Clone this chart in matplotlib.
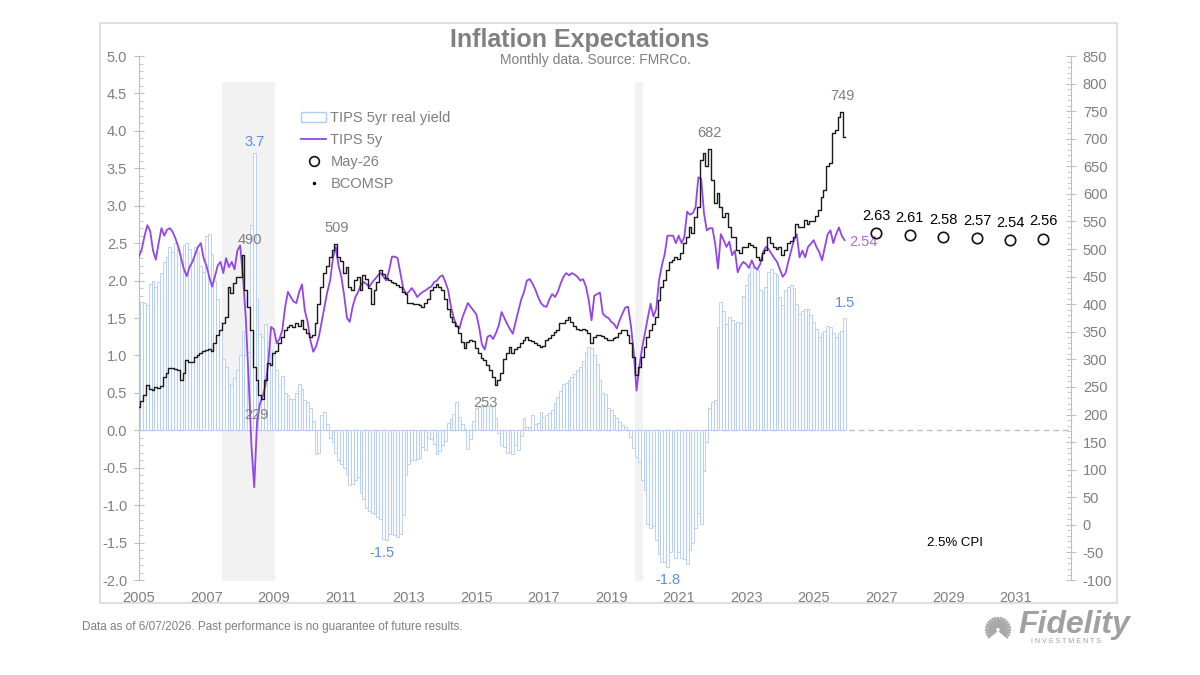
import numpy as np
import matplotlib
matplotlib.use('Agg')
import matplotlib.pyplot as plt
from matplotlib.patches import Rectangle, Patch
from matplotlib.lines import Line2D
from matplotlib.ticker import MultipleLocator, FormatStrFormatter

plt.rcParams['font.family'] = ['Liberation Sans', 'DejaVu Sans']
plt.rcParams['axes.unicode_minus'] = False

# monthly data, one row of 12 per line; first month sits on the 2005 tick
real_yield = [
    1.68, 1.72, 1.70, 1.68, 1.95, 2.00, 1.92, 1.98, 2.10, 2.25, 2.32, 2.45,
    2.38, 2.50, 2.42, 2.35, 2.47, 2.50, 2.42, 2.28, 2.45, 2.38, 2.20, 2.12,
    2.60, 2.62, 2.35, 2.00, 1.75, 1.45, 0.95, 0.85, 0.62, 0.60, 0.70, 0.80,
    1.00, 1.33, 1.00, 1.05, 2.74, 3.70, 1.76, 1.29, 1.25, 1.42, 1.16, 1.07,
    1.00, 0.80, 0.60, 0.72, 0.50, 0.47, 0.42, 0.42, 0.50, 0.62, 0.55, 0.40,
    0.38, 0.30, 0.13, -0.31, -0.30, 0.20, 0.24, 0.08, -0.10, -0.15, -0.30, -0.40,
    -0.45, -0.50, -0.60, -0.73, -0.72, -0.66, -0.62, -0.84, -0.92, -1.04, -1.08, -1.10,
    -1.12, -1.16, -1.18, -1.45, -1.46, -1.38, -1.38, -1.40, -1.42, -1.38, -1.13, -0.60,
    -0.45, -0.40, -0.40, -0.38, -0.37, -0.22, -0.26, -0.10, -0.12, -0.18, -0.31, -0.27,
    -0.20, -0.14, 0.10, 0.15, 0.22, 0.38, 0.18, 0.09, 0.02, -0.25, -0.11, 0.13,
    0.30, 0.31, 0.33, 0.34, 0.33, 0.33, 0.32, 0.16, -0.03, -0.20, -0.22, -0.30,
    -0.29, -0.31, -0.20, -0.26, -0.08, 0.16, 0.05, 0.04, 0.20, 0.09, 0.10, 0.24,
    0.18, 0.20, 0.23, 0.27, 0.36, 0.45, 0.53, 0.62, 0.63, 0.67, 0.71, 0.75,
    0.80, 0.85, 0.93, 1.05, 1.11, 1.10, 1.00, 0.88, 0.67, 0.50, 0.48, 0.30,
    0.27, 0.20, 0.16, 0.11, 0.07, 0.04, 0.00, -0.09, -0.24, -0.36, -0.42, -0.67,
    -0.80, -1.25, -1.30, -1.28, -1.47, -1.65, -1.76, -1.76, -1.82, -1.62, -1.60, -1.70,
    -1.62, -1.70, -1.72, -1.78, -1.60, -1.50, -1.30, -1.11, -1.25, -0.55, -0.15, 0.30,
    0.38, 0.40, 1.38, 1.71, 1.60, 1.42, 1.51, 1.48, 1.42, 1.45, 1.44, 1.80,
    1.94, 2.09, 2.18, 2.17, 2.14, 1.87, 1.85, 1.91, 2.11, 2.16, 2.10, 2.07,
    1.78, 1.67, 1.87, 1.91, 1.94, 1.90, 1.69, 1.56, 1.60, 1.62, 1.62, 1.54,
    1.45, 1.36, 1.25, 1.30, 1.33, 1.40, 1.38, 1.30, 1.25, 1.30, 1.33, 1.50,
]

tips_5y = [
    2.32, 2.42, 2.60, 2.74, 2.66, 2.40, 2.28, 2.50, 2.70, 2.60, 2.68, 2.70,
    2.65, 2.56, 2.45, 2.30, 2.15, 2.06, 2.18, 2.25, 2.35, 2.45, 2.50, 2.30,
    2.20, 2.05, 1.92, 2.05, 2.20, 2.25, 2.10, 2.30, 2.18, 2.25, 2.15, 2.40,
    2.47, 2.05, 1.50, 0.70, -0.20, -0.76, 0.10, 0.35, 0.45, 0.60, 0.90, 1.38,
    1.35, 1.16, 1.22, 1.34, 1.65, 1.85, 1.78, 1.72, 1.70, 1.85, 1.95, 1.60,
    1.45, 1.20, 1.05, 1.12, 1.25, 1.45, 1.65, 1.85, 2.00, 2.30, 2.45, 2.20,
    2.05, 1.80, 1.50, 1.45, 1.65, 1.78, 1.85, 1.95, 1.98, 1.95, 1.92, 1.98,
    2.02, 2.07, 2.10, 2.05, 2.00, 2.14, 2.32, 2.32, 2.30, 2.10, 1.90, 1.82,
    1.85, 1.90, 1.85, 1.78, 1.82, 1.85, 1.87, 1.90, 1.92, 1.98, 2.00, 2.05,
    2.07, 1.98, 1.87, 1.65, 1.50, 1.40, 1.36, 1.50, 1.60, 1.70, 1.65, 1.60,
    1.55, 1.38, 1.15, 1.08, 1.25, 1.27, 1.22, 1.30, 1.40, 1.58, 1.50, 1.42,
    1.35, 1.29, 1.45, 1.60, 1.75, 1.85, 2.00, 2.02, 1.96, 1.88, 1.78, 1.70,
    1.66, 1.65, 1.75, 1.82, 1.78, 1.85, 1.96, 2.05, 2.10, 2.07, 2.10, 2.08,
    2.05, 2.00, 2.02, 1.92, 1.74, 1.47, 1.80, 1.82, 1.84, 1.56, 1.52, 1.50,
    1.45, 1.42, 1.36, 1.47, 1.56, 1.64, 1.65, 1.40, 1.05, 0.53, 0.85, 1.10,
    1.30, 1.50, 1.69, 1.52, 1.62, 2.00, 2.20, 2.35, 2.60, 2.60, 2.60, 2.50,
    2.60, 2.50, 2.58, 2.92, 2.88, 2.90, 2.98, 3.38, 3.36, 2.90, 2.67, 2.70,
    2.70, 2.49, 2.16, 2.62, 2.54, 2.45, 2.52, 2.34, 2.40, 2.11, 2.20, 2.25,
    2.22, 2.17, 2.27, 2.18, 2.15, 2.22, 2.38, 2.45, 2.42, 2.36, 2.30, 2.25,
    2.15, 2.05, 2.10, 2.25, 2.40, 2.54, 2.62, 2.31, 2.40, 2.31, 2.45, 2.49,
    2.54, 2.45, 2.38, 2.27, 2.45, 2.62, 2.67, 2.50, 2.62, 2.71, 2.60, 2.54,
]

bcomsp = [
    214, 225, 235, 253, 246, 244, 250, 248, 252, 268, 275, 284,
    284, 282, 280, 262, 275, 299, 296, 295, 305, 308, 311, 315,
    317, 318, 315, 330, 345, 353, 366, 377, 431, 420, 438, 449,
    449, 490, 426, 395, 353, 286, 262, 235, 229, 262, 293, 290,
    311, 315, 330, 341, 353, 359, 362, 359, 366, 360, 371, 355,
    347, 341, 345, 366, 400, 432, 456, 470, 485, 498, 509, 486,
    478, 456, 468, 431, 426, 444, 450, 426, 453, 445, 430, 400,
    426, 440, 462, 455, 448, 444, 440, 438, 435, 432, 422, 418,
    402, 402, 400, 400, 398, 395, 402, 410, 426, 432, 436, 432,
    425, 410, 392, 377, 368, 360, 347, 332, 320, 332, 335, 334,
    320, 311, 303, 299, 290, 281, 268, 253, 262, 275, 300, 311,
    323, 312, 318, 323, 330, 335, 341, 336, 333, 330, 326, 323,
    325, 335, 338, 345, 350, 353, 366, 366, 371, 377, 368, 360,
    356, 353, 355, 353, 347, 330, 341, 345, 345, 342, 338, 335,
    335, 338, 341, 347, 353, 353, 345, 330, 305, 272, 286, 305,
    323, 341, 353, 365, 377, 408, 432, 444, 462, 477, 480, 485,
    482, 493, 511, 522, 540, 530, 559, 577, 661, 674, 650, 682,
    625, 583, 601, 577, 559, 565, 540, 522, 522, 498, 493, 504,
    504, 511, 508, 504, 486, 480, 493, 498, 522, 511, 504, 500,
    504, 490, 498, 511, 515, 522, 546, 540, 540, 553, 546, 550,
    550, 560, 571, 595, 607, 650, 656, 710, 716, 740, 749, 704,
]

# May-26 projection points (left axis)
proj_x = [2026.85, 2027.85, 2028.85, 2029.85, 2030.83, 2031.80]
proj_y = [2.63, 2.61, 2.58, 2.57, 2.54, 2.56]

# shaded periods, in axis years
shaded = [(2007.46, 2009.03), (2019.71, 2019.94)]

year_ticks = list(range(2005, 2032, 2))

months = 2005 + np.arange(len(real_yield)) / 12.0

GRAY = '#7f7f7f'
BLUE_TXT = '#5a8ee0'
PURPLE = '#9146ea'
BAR_EDGE = '#b3cbf1'

fig = plt.figure(figsize=(12, 6.75), dpi=100)
fig.patches.append(Rectangle((0.0833, 0.1067), 0.8475, 0.8592, transform=fig.transFigure,
                             fill=False, edgecolor='#d9d9d9', lw=1.2))

ax = fig.add_axes([0.1158, 0.1407, 0.7767, 0.7763])
ax2 = ax.twinx()

for a, b in shaded:
    ax.fill_between([a, b], -2.02, 4.65, color='#f2f2f2', lw=0, zorder=0)

ax.axhline(0, color='#bfbfbf', lw=1, ls=(0, (4, 3)), zorder=1)
ax.bar(months, real_yield, width=1 / 12.0, facecolor='#fbfcff', edgecolor=BAR_EDGE,
       linewidth=0.6, zorder=2)
ax.plot(months, tips_5y, color=PURPLE, lw=1.3, zorder=4)
ax.plot(proj_x, proj_y, 'o', ms=7.5, mfc='none', mec='#111111', mew=1.2, zorder=5)
for x, y in zip(proj_x, proj_y):
    ax.annotate(f'{y:.2f}', (x, y), xytext=(0, 12.5), textcoords='offset points',
                ha='center', va='center', fontsize=10.5, color='black')

ax2.plot(months, bcomsp, color='#1a1a1a', lw=1.0, drawstyle='steps-mid', zorder=3)

# value labels
i_max = int(np.argmax(real_yield))
i_min = int(np.argmin(real_yield))
ax.text(months[i_max], real_yield[i_max] + 0.06, f'{real_yield[i_max]:.1f}',
        color=BLUE_TXT, fontsize=10.5, ha='center', va='bottom')
ax.text(2012.2, -1.64, '-1.5', color=BLUE_TXT, fontsize=10.5, ha='center', va='center')
ax.text(months[i_min], real_yield[i_min] - 0.08, f'{real_yield[i_min]:.1f}',
        color=BLUE_TXT, fontsize=10.5, ha='center', va='top')
ax.text(months[-1], real_yield[-1] + 0.2, f'{real_yield[-1]:.1f}',
        color=BLUE_TXT, fontsize=10.5, ha='center', va='center')
ax.text(months[-1] + 0.15, tips_5y[-1] - 0.02, f'{tips_5y[-1]:.2f}',
        color='#b36be8', fontsize=10.5, ha='left', va='center')
ax.text(2029.19, -1.51, '2.5% CPI', color='black', fontsize=9.5, ha='center', va='center')

bcom_labels = [(2008.29, 516, 490), (2008.47, 199, 229), (2010.87, 538, 509),
               (2015.26, 221, 253), (2021.90, 710, 682), (2025.84, 777, 749)]
for x, y, v in bcom_labels:
    ax2.text(x, y, str(v), color=GRAY, fontsize=10.5, ha='center', va='center')

# axes styling
ax.set_xlim(2005, 2032.63)
ax.set_ylim(-2, 5)
ax2.set_ylim(-100, 850)
for s in ['top', 'bottom', 'right']:
    ax.spines[s].set_visible(False)
    if s != 'right':
        ax2.spines[s].set_visible(False)
ax2.spines['left'].set_visible(False)
ax.spines['left'].set_color('#bfbfbf')
ax2.spines['right'].set_color('#bfbfbf')

ax.yaxis.set_major_locator(MultipleLocator(0.5))
ax.yaxis.set_minor_locator(MultipleLocator(0.1))
ax.yaxis.set_major_formatter(FormatStrFormatter('%.1f'))
ax2.yaxis.set_major_locator(MultipleLocator(50))
ax2.yaxis.set_minor_locator(MultipleLocator(10))
ax.tick_params(axis='y', which='major', direction='inout', length=7, color='#bfbfbf',
               labelcolor=GRAY, labelsize=10.5, pad=5)
ax.tick_params(axis='y', which='minor', direction='in', length=3, color='#bfbfbf')
ax2.tick_params(axis='y', which='major', direction='inout', length=7, color='#bfbfbf',
                labelcolor=GRAY, labelsize=10.5, pad=5)
ax2.tick_params(axis='y', which='minor', direction='in', length=3, color='#bfbfbf')
ax.set_xticks(year_ticks)
ax.set_xticklabels([str(y) for y in year_ticks])
ax.tick_params(axis='x', length=0, labelcolor=GRAY, labelsize=10.5, pad=8)

handles = [Patch(facecolor='#fbfcff', edgecolor=BAR_EDGE, lw=1),
           Line2D([], [], color=PURPLE, lw=1.3),
           Line2D([], [], marker='o', ls='none', ms=7, mfc='none', mec='#111111', mew=1.2),
           Line2D([], [], marker='.', ls='none', ms=3, color='black')]
leg = ax.legend(handles, ['TIPS 5yr real yield', 'TIPS 5y', 'May-26', 'BCOMSP'],
                loc='upper left', bbox_to_anchor=(0.16, 0.92), frameon=False,
                fontsize=10.5, labelspacing=0.55, handlelength=1.7, handletextpad=0.3)
for t in leg.get_texts():
    t.set_color(GRAY)

fig.text(0.483, 0.9407, 'Inflation Expectations', ha='center', va='center',
         fontsize=18, fontweight='bold', color='#808080')
fig.text(0.496, 0.911, 'Monthly data. Source: FMRCo.', ha='center', va='center',
         fontsize=10, color=GRAY)
fig.text(0.068, 0.0711, 'Data as of 6/07/2026. Past performance is no guarantee of future results.',
         ha='left', va='center', fontsize=8.5, color=GRAY)

# logo: sunburst + wordmark
logo = fig.add_axes([983 / 1200, 1 - 640 / 675, 30 / 1200, 26 / 675])
logo.set_xlim(-1.15, 1.15)
logo.set_ylim(-1.0, 1.0)
logo.axis('off')
for ang in np.arange(-40, 221, 13):
    t = np.radians(ang)
    logo.plot([0.15 * np.cos(t), np.cos(t)], [-0.2 + 0.15 * np.sin(t), -0.2 + np.sin(t)],
              color='#a8a8a8', lw=1.6, solid_capstyle='butt')
fig.text(0.942, 0.0735, 'Fidelity', ha='right', va='center', fontsize=23,
         fontweight='bold', style='italic', color='#a0a0a0')
fig.text(0.888, 0.049, 'I N V E S T M E N T S', ha='center', va='center', fontsize=5,
         color='#a0a0a0')

fig.savefig('out.png', dpi=100)
